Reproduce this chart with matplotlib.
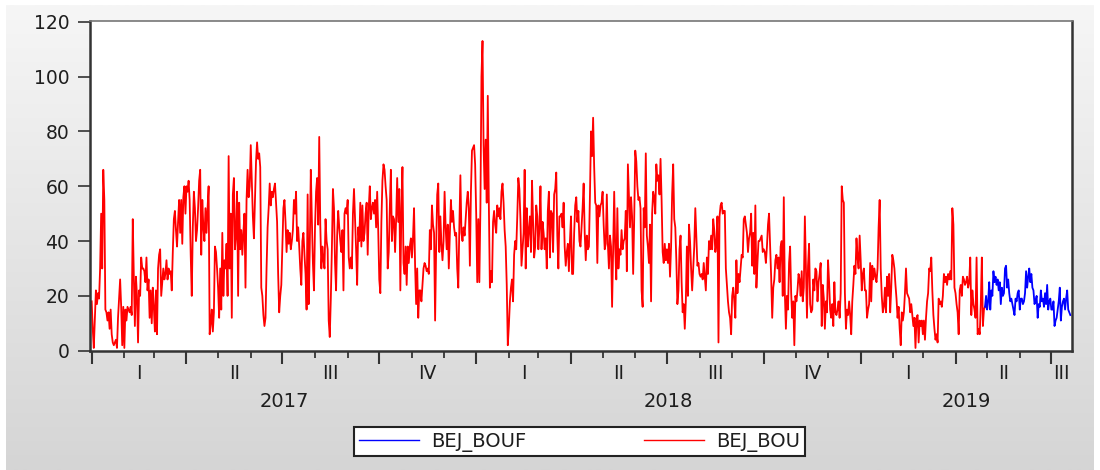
import numpy as np
import pandas as pd
import matplotlib
matplotlib.use("Agg")
import matplotlib.pyplot as plt
import matplotlib.dates as mdates
from matplotlib.colors import LinearSegmentedColormap

# daily values
bou_2017 = [18, 8, 1, 12, 22, 17, 21, 19, 30, 50,
            30, 66, 55, 15, 14, 11, 14, 8, 15, 6,
            3, 2, 3, 4, 1, 12, 19, 26, 16, 2,
            16, 1, 15, 11, 16, 15, 14, 16, 13, 48,
            27, 9, 27, 20, 3, 22, 20, 34, 30, 30,
            29, 25, 34, 22, 26, 12, 22, 10, 23, 16,
            7, 22, 6, 30, 35, 37, 20, 25, 30, 26,
            28, 33, 26, 30, 28, 29, 22, 36, 48, 51,
            44, 38, 47, 55, 43, 55, 39, 56, 60, 50,
            60, 58, 62, 55, 35, 20, 45, 58, 52, 40,
            44, 52, 62, 66, 35, 55, 45, 40, 52, 43,
            52, 60, 6, 10, 15, 7, 14, 38, 36, 30,
            23, 12, 30, 15, 43, 20, 33, 30, 39, 20,
            71, 30, 50, 12, 57, 63, 37, 42, 58, 20,
            54, 37, 44, 35, 43, 50, 23, 55, 66, 56,
            60, 75, 62, 49, 41, 55, 69, 76, 70, 72,
            67, 23, 20, 13, 9, 12, 30, 45, 52, 61,
            53, 58, 56, 59, 61, 54, 47, 28, 14, 20,
            24, 38, 52, 55, 47, 36, 44, 39, 43, 37,
            40, 44, 55, 50, 58, 40, 45, 38, 30, 24,
            40, 43, 35, 28, 15, 57, 17, 37, 66, 48,
            32, 22, 45, 58, 63, 46, 78, 46, 30, 38,
            33, 30, 48, 40, 37, 11, 5, 19, 37, 59,
            52, 32, 22, 42, 51, 45, 40, 36, 44, 22,
            50, 52, 50, 55, 34, 30, 34, 30, 50, 59,
            48, 37, 24, 45, 40, 54, 38, 53, 40, 43,
            50, 54, 35, 52, 60, 48, 52, 54, 50, 55,
            45, 58, 44, 26, 21, 47, 62, 68, 66, 60,
            55, 30, 36, 52, 66, 40, 49, 48, 36, 48,
            63, 47, 59, 22, 52, 67, 32, 28, 38, 24,
            38, 32, 38, 41, 34, 41, 52, 31, 17, 30,
            12, 22, 22, 18, 24, 30, 32, 31, 29, 30,
            28, 44, 37, 53, 46, 43, 11, 38, 57, 61,
            36, 49, 39, 33, 40, 58, 45, 37, 46, 30,
            42, 55, 47, 51, 45, 42, 43, 30, 23, 45,
            64, 43, 40, 45, 42, 48, 54, 58, 52, 31,
            58, 73, 74, 75, 68]

bou_2018 = [50, 25, 48, 25, 52, 100, 113, 75, 59, 77,
            54, 93, 54, 23, 29, 25, 47, 51, 46, 43,
            53, 49, 52, 48, 58, 61, 54, 44, 38, 24,
            2, 9, 18, 23, 26, 18, 35, 40, 37, 49,
            63, 59, 48, 31, 37, 43, 66, 30, 52, 38,
            44, 49, 36, 62, 47, 34, 38, 53, 49, 37,
            45, 60, 37, 47, 43, 37, 41, 30, 51, 58,
            34, 51, 50, 36, 57, 59, 65, 42, 30, 49,
            49, 50, 45, 54, 38, 31, 36, 39, 29, 40,
            49, 28, 28, 43, 53, 56, 47, 51, 40, 38,
            45, 52, 61, 43, 33, 42, 37, 38, 57, 80,
            71, 85, 67, 54, 53, 32, 53, 49, 53, 54,
            58, 46, 37, 39, 57, 39, 30, 42, 38, 16,
            36, 58, 37, 26, 52, 30, 37, 35, 44, 37,
            40, 41, 51, 29, 68, 57, 45, 56, 49, 28,
            48, 73, 69, 60, 55, 56, 52, 22, 16, 52,
            45, 72, 42, 38, 32, 46, 18, 50, 58, 56,
            50, 68, 62, 64, 57, 70, 55, 36, 32, 39,
            33, 37, 32, 39, 27, 38, 57, 68, 48, 45,
            33, 17, 22, 37, 42, 25, 14, 17, 8, 18,
            38, 20, 46, 40, 30, 22, 30, 38, 52, 42,
            31, 32, 28, 27, 28, 26, 32, 27, 22, 34,
            28, 40, 37, 42, 37, 48, 44, 36, 39, 49,
            3, 49, 53, 54, 50, 51, 51, 30, 24, 18,
            14, 12, 6, 20, 23, 18, 12, 33, 21, 28,
            25, 30, 35, 34, 48, 49, 46, 43, 36, 41,
            43, 50, 31, 43, 28, 53, 23, 32, 40, 40,
            41, 42, 36, 37, 36, 32, 38, 46, 50, 38,
            27, 12, 23, 26, 33, 35, 30, 34, 25, 38,
            40, 20, 56, 21, 8, 20, 15, 32, 38, 21,
            12, 18, 2, 20, 18, 22, 28, 26, 20, 29,
            18, 23, 49, 30, 12, 31, 39, 17, 14, 15,
            26, 22, 30, 29, 18, 25, 28, 32, 9, 24,
            19, 8, 18, 14, 33, 25, 15, 12, 17, 9,
            25, 14, 13, 15, 18, 12, 21, 60, 55, 54,
            21, 8, 15, 13, 18, 13, 6, 18, 24, 31,
            28, 41, 34, 30, 42]

bou_2019 = [33, 22, 28, 30, 22, 22, 12, 15, 17, 32,
            18, 31, 26, 30, 27, 25, 30, 45, 55, 30,
            20, 14, 16, 23, 14, 27, 20, 28, 14, 23,
            35, 33, 30, 24, 19, 12, 16, 8, 2, 14,
            11, 14, 21, 30, 21, 20, 19, 14, 17, 13,
            9, 12, 1, 12, 13, 3, 11, 9, 11, 6,
            11, 4, 12, 18, 21, 30, 29, 34, 22, 13,
            8, 4, 6, 3, 19, 17, 18, 16, 20, 28,
            25, 27, 24, 28, 26, 29, 26, 52, 46, 23,
            21, 17, 14, 6, 22, 24, 20, 27, 26, 24,
            25, 27, 23, 25, 34, 13, 22, 17, 15, 12,
            34, 6, 8, 6, 17, 34, 9, 15, 16]

bouf_2019 = [16, 20, 15, 18, 25, 15, 22, 20, 29, 25,
             27, 24, 26, 22, 25, 17, 23, 20, 21, 30,
             31, 23, 26, 21, 18, 19, 17, 15, 13, 19,
             18, 21, 22, 15, 19, 19, 17, 18, 21, 29,
             23, 27, 30, 25, 28, 23, 22, 17, 18, 20,
             12, 17, 16, 22, 18, 19, 16, 21, 17, 24,
             15, 18, 19, 15, 15, 18, 9, 11, 12, 15,
             18, 23, 11, 16, 18, 19, 15, 19, 22, 15,
             14, 13]

years = [2017, 2018, 2019]
quarter_names = ["I", "II", "III", "IV"]
yticks = [0, 20, 40, 60, 80, 100, 120]

bou = bou_2017 + bou_2018 + bou_2019
dates_bou = pd.date_range("2017-01-01", periods=len(bou), freq="D")
dates_bouf = pd.date_range(dates_bou[-1], periods=len(bouf_2019), freq="D")

plt.rcParams['font.family'] = ['DejaVu Sans']

fig = plt.figure(figsize=(11, 4.7), dpi=100)
fig.patch.set_facecolor('white')

# grey gradient behind everything
bg = fig.add_axes([6/1100, 0, 1088/1100, 465/470], zorder=-10)
grad = np.linspace(0, 1, 256).reshape(-1, 1)
cmap = LinearSegmentedColormap.from_list('bg', ['#d5d5d5', '#f6f6f6'])
bg.imshow(grad, aspect='auto', cmap=cmap, origin='lower', extent=[0, 1, 0, 1])
bg.axis('off')

ax = fig.add_axes([90/1100, 1 - 350.7/470, 981.7/1100, 330/470])
ax.set_facecolor('white')
l_bou, = ax.plot(dates_bou, bou, color='#ff0000', lw=1.3)
l_bouf, = ax.plot(dates_bouf, bouf_2019, color='#0000ff', lw=1.3)

x0 = mdates.date2num(pd.Timestamp("2017-01-01"))
xmin, xmax = x0 - 1.6, x0 + 930.3
ax.set_xlim(xmin, xmax)
ax.set_ylim(0, 120.4)

ax.xaxis.set_major_locator(mdates.MonthLocator(bymonth=[1, 4, 7, 10]))
ax.xaxis.set_minor_locator(mdates.MonthLocator())
ax.xaxis.set_major_formatter(plt.NullFormatter())
ax.xaxis.set_minor_formatter(plt.NullFormatter())
ax.tick_params(axis='x', which='major', length=9, width=1.5, color='#333333', direction='out')
ax.tick_params(axis='x', which='minor', length=5, width=1.3, color='#333333', direction='out')
ax.set_yticks(yticks)
ax.tick_params(axis='y', length=9, width=1.2, color='#333333', direction='out',
               labelsize=13.5, labelcolor='#1e1e1e', pad=6)

for side in ['left', 'bottom', 'right']:
    ax.spines[side].set_color('#333333')
    ax.spines[side].set_linewidth(1.8)
ax.spines['top'].set_color('#777777')
ax.spines['top'].set_linewidth(1.2)

trans = ax.get_xaxis_transform()
for yr in years:
    for q in range(4):
        qs = mdates.date2num(pd.Timestamp(yr, 3*q + 1, 1))
        qe = mdates.date2num(pd.Timestamp(yr, 3*q + 1, 1) + pd.DateOffset(months=3))
        a, b = max(qs, xmin), min(qe, xmax)
        if b - a < 5:
            continue
        ax.text((a + b) / 2, -22.5/330, quarter_names[q], transform=trans,
                ha='center', va='center', fontsize=13.5, color='#1e1e1e', clip_on=False)
    ys = mdates.date2num(pd.Timestamp(yr, 1, 1))
    ye = mdates.date2num(pd.Timestamp(yr + 1, 1, 1))
    a, b = max(ys, xmin), min(ye, xmax)
    ax.text((a + b) / 2, -50.5/330, str(yr), transform=trans,
            ha='center', va='center', fontsize=14, color='#1e1e1e', clip_on=False)

leg = fig.legend([l_bouf, l_bou], ['BEJ_BOUF', 'BEJ_BOU'], ncol=2, loc='center',
                 bbox_to_anchor=(354/1100, 1 - 455/470, 451/1100, 27/470), mode='expand',
                 borderaxespad=0, frameon=True, fancybox=False, edgecolor='#222222',
                 framealpha=1, handlelength=3.1, handletextpad=0.6, borderpad=0.25,
                 fontsize=14)
leg.get_frame().set_linewidth(1.5)
for line in leg.get_lines():
    line.set_linewidth(1.0)
for t in leg.get_texts():
    t.set_color('#1e1e1e')

fig.savefig('out.png', dpi=100)
